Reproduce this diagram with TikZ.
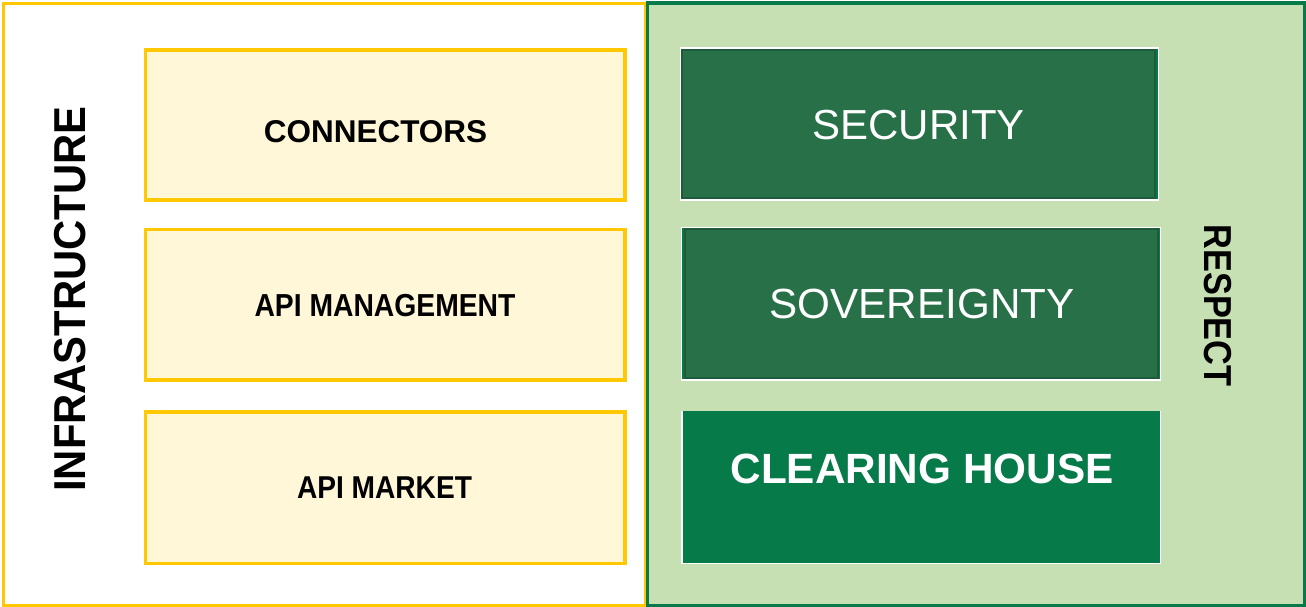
\documentclass[tikz,border=0pt]{standalone}
\usepackage{fontspec}
\setmainfont{Liberation Sans}
\definecolor{ygold}{HTML}{FFC800}
\definecolor{cream}{HTML}{FFF7D7}
\definecolor{lgreen}{HTML}{C6E0B4}
\definecolor{fgreen}{HTML}{077A4A}
\definecolor{mgreen}{HTML}{287148}
\definecolor{dgreen}{HTML}{1E5B3A}
\begin{document}
\begin{tikzpicture}[x=1pt,y=-1pt,
  ybox/.style={draw=ygold,line width=3.3pt,fill=cream},
  gbox/.style={draw=dgreen,line width=2.5pt,fill=mgreen},
  lbl/.style={inner sep=0pt,anchor=center}]
\useasboundingbox (0,0) rectangle (1306,607);
% frames
\draw[draw=ygold,line width=3.3pt,fill=white] (3.3,3.3) rectangle (646,605.5);
\draw[draw=fgreen,line width=3.2pt,fill=lgreen] (647.5,3) rectangle (1304.3,605.3);
% yellow boxes
\draw[ybox] (145.7,50) rectangle (625,200);
\draw[ybox] (145.7,229.5) rectangle (625,380);
\draw[ybox] (145.7,412) rectangle (625,563.3);
% green boxes
\fill[white] (679.5,47.5) rectangle (1159,200.5);
\fill[fgreen] (681,49) rectangle (1158,199);
\draw[gbox] (682.2,50.2) rectangle (1155.2,197.8);
\fill[white] (681,227) rectangle (1160.5,380.5);
\fill[fgreen] (682,228) rectangle (1159.5,379);
\draw[gbox] (685.2,229.2) rectangle (1158.2,377.8);
\fill[white] (681,410.5) rectangle (1161,564);
\fill[fgreen] (682.5,411) rectangle (1159.5,562.7);
% labels
\node[lbl] (con) at (375.5,131.5) {\fontsize{31.5}{36}\selectfont\bfseries CONNECTORS};
\node[lbl] (apim) at (385,306) {\scalebox{0.89}[1]{\fontsize{31.8}{36}\selectfont\bfseries API MANAGEMENT}};
\node[lbl] (apimk) at (384.5,488) {\scalebox{0.89}[1]{\fontsize{31.6}{36}\selectfont\bfseries API MARKET}};
\node[lbl,text=white] (sec) at (918.5,125) {\fontsize{42}{48}\selectfont SECURITY};
\node[lbl,text=white] (sov) at (922,304) {\fontsize{42.2}{48}\selectfont SOVEREIGNTY};
\node[lbl,text=white] (ch) at (922,469) {\fontsize{42.3}{48}\selectfont\bfseries CLEARING HOUSE};
\node[lbl,rotate=90] (inf) at (70.5,299) {\scalebox{0.935}[1]{\fontsize{44.7}{50}\selectfont\bfseries INFRASTRUCTURE}};
\node[lbl,rotate=-90] (res) at (1217.5,305.5) {\scalebox{0.88}[1]{\fontsize{39}{44}\selectfont\bfseries RESPECT}};
\end{tikzpicture}
\end{document}
